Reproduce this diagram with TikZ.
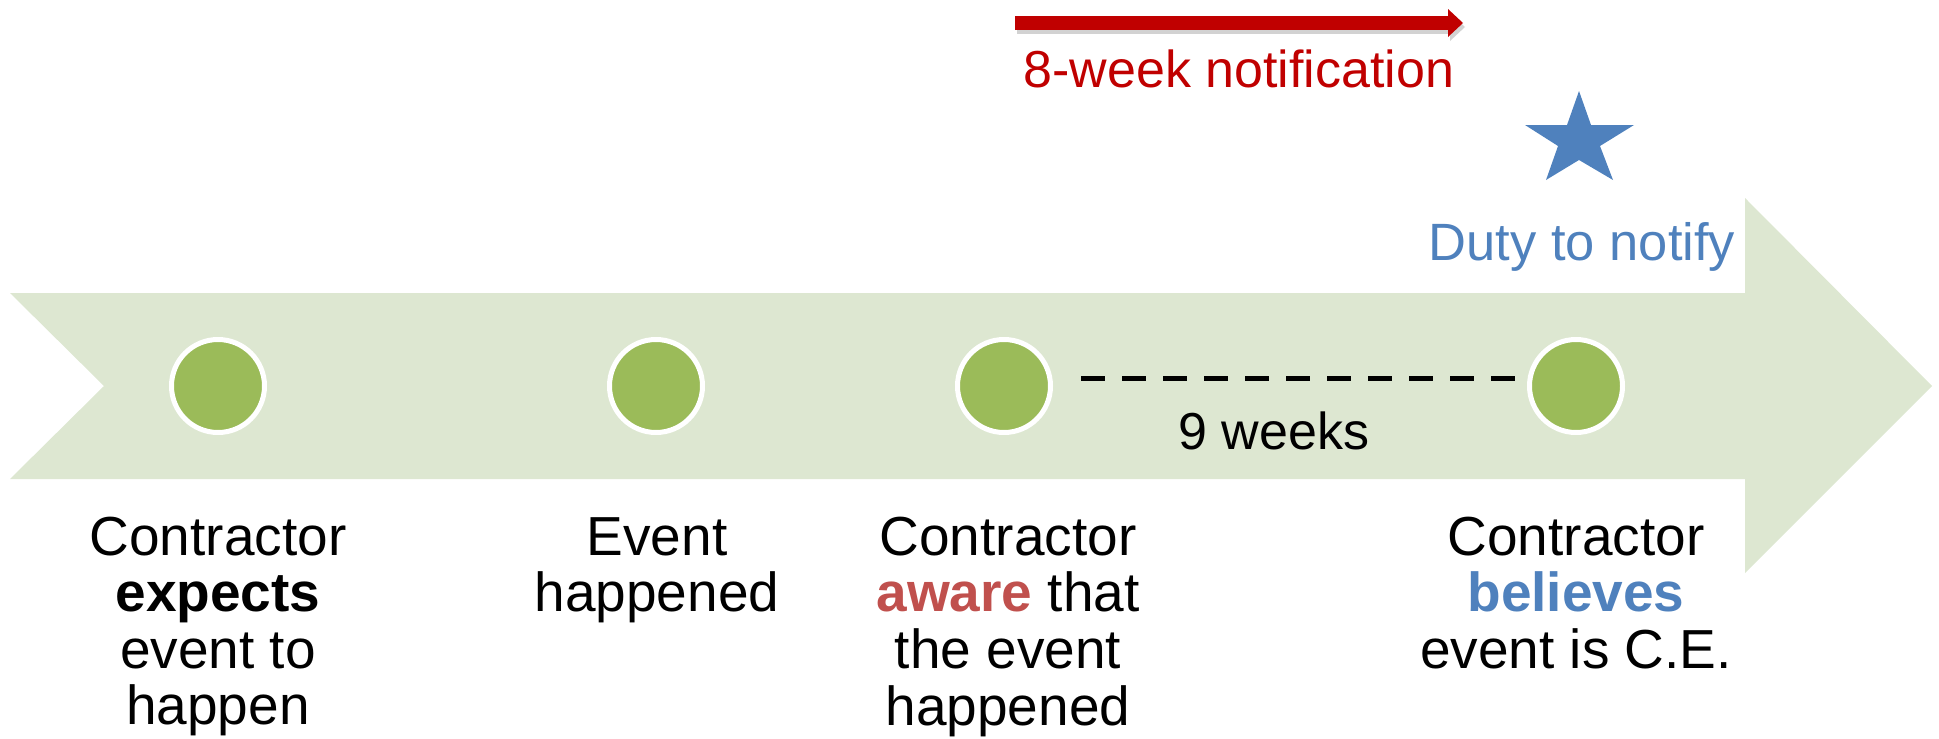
\documentclass[tikz,border=0pt]{standalone}
\usepackage{fontspec}
\setmainfont{Liberation Sans}
\usetikzlibrary{calc}
\definecolor{bandgreen}{RGB}{221,231,209}
\definecolor{dotgreen}{RGB}{155,187,89}
\definecolor{accblue}{RGB}{79,129,189}
\definecolor{accred}{RGB}{192,80,77}
\definecolor{darkred}{RGB}{192,0,0}
\begin{document}
\begin{tikzpicture}[x=1pt,y=-1pt,
  dotnode/.style={circle, minimum size=93pt, inner sep=0pt, line width=5pt, draw=white, fill=dotgreen},
  lbl/.style={anchor=base, inner sep=0pt, font=\fontsize{55}{56.5}\selectfont},
  tag/.style={anchor=base, inner sep=0pt, font=\fontsize{52}{56}\selectfont},
  dashline/.style={line width=5pt, dash pattern=on 24pt off 17pt, shorten <=28pt, shorten >=12pt},
  redshaft/.style={line width=14pt, darkred, shorten >=15pt}]
\useasboundingbox (0,0) rectangle (1939,739);
% band arrow
\fill[bandgreen] (10,293) -- (1745,293) -- (1745,198) -- (1932,386) -- (1745,573) -- (1745,479) -- (10,479) -- (104,386) -- cycle;
% milestones
\node[dotnode] (c1) at (218,386) {};
\node[dotnode] (c2) at (656,386) {};
\node[dotnode] (c3) at (1004,386) {};
\node[dotnode] (c4) at (1576,386) {};
\draw[dashline] ([yshift=8pt]c3.east) -- ([yshift=8pt]c4.west);
\node[tag] (w9) at (1274,449) {9 weeks};
% labels
\node[lbl] (l1) at (218,555) {\begin{tabular}[t]{@{}c@{}}Contractor\\\textbf{expects}\\event to\\happen\end{tabular}};
\node[lbl] (l2) at (657,555) {\begin{tabular}[t]{@{}c@{}}Event\\happened\end{tabular}};
\node[lbl] (l3) at (1008,555) {\begin{tabular}[t]{@{}c@{}}Contractor\\\textcolor{accred}{\textbf{aware}} that\\the event\\happened\end{tabular}};
\node[lbl] (l4) at (1576,555) {\begin{tabular}[t]{@{}c@{}}Contractor\\\textcolor{accblue}{\textbf{believes}}\\event is C.E.\end{tabular}};
% duty to notify
\node[tag, font=\fontsize{52.5}{56}\selectfont, text=accblue] (duty) at (1582,260) {Duty to notify};
\fill[accblue] (1579,91) -- (1591,125) -- (1634,125) -- (1600,146) -- (1613,180) -- (1579,160) -- (1546,180) -- (1558,146) -- (1525,125) -- (1567,125) -- cycle;
% 8-week notification arrow
\coordinate (ra) at (1015,23);
\coordinate (rb) at (1463,23);
\draw[redshaft, black!35, opacity=0.5] ($(ra)+(2,4)$) -- ($(rb)+(2,4)$);
\fill[black!35, opacity=0.5] ($(rb)+(-13,-10)$) -- ($(rb)+(2,4)$) -- ($(rb)+(-13,18)$) -- cycle;
\draw[redshaft] (ra) -- (rb);
\fill[darkred] ($(rb)+(-15,-14)$) -- (rb) -- ($(rb)+(-15,14)$) -- cycle;
\node[tag, text=darkred] (note) at (1239,87) {8-week notification};
\end{tikzpicture}
\end{document}
